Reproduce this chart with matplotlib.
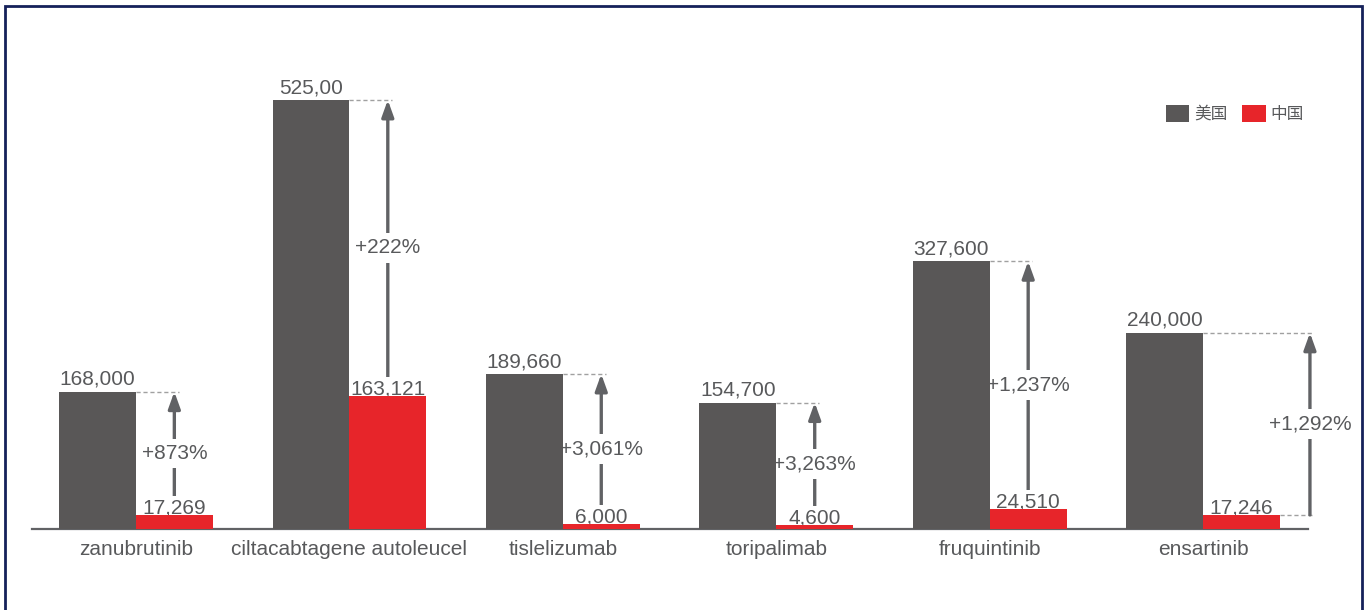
import matplotlib.pyplot as plt
import numpy as np
from matplotlib.patches import Rectangle

plt.rcParams['font.family'] = ['Liberation Sans', 'Noto Sans CJK SC', 'DejaVu Sans']

# Annual price per drug, USA vs China
drugs = ["zanubrutinib", "ciltacabtagene autoleucel", "tislelizumab",
         "toripalimab", "fruquintinib", "ensartinib"]
us_price = [168000, 525000, 189660, 154700, 327600, 240000]
cn_price = [17269, 163121, 6000, 4600, 24510, 17246]
us_text = ["168,000", "525,00", "189,660", "154,700", "327,600", "240,000"]
cn_text = ["17,269", "163,121", "6,000", "4,600", "24,510", "17,246"]
series_names = ["美国", "中国"]

US_COLOR = "#595757"
CN_COLOR = "#e7252a"
TEXT_COLOR = "#58595b"
ARROW_COLOR = "#616265"
DASH_COLOR = "#a0a0a0"

width = 0.36
# arrow sits over the China bar, except the last group where it goes to the axis end
arrow_dx = [0.18, 0.18, 0.18, 0.18, 0.18, 0.50]

fig = plt.figure(figsize=(13.66, 6.10), dpi=100)
ax = fig.add_axes([0.0234, 0.1328, 0.934, 0.8016])

x = np.arange(len(drugs))
ax.bar(x - width / 2, us_price, width, color=US_COLOR, label=series_names[0], zorder=3)
ax.bar(x + width / 2, cn_price, width, color=CN_COLOR, label=series_names[1], zorder=3)

for i in range(len(drugs)):
    us, cn = us_price[i], cn_price[i]
    ax_x = i + arrow_dx[i]
    # dashed guide from the top of the US bar to the arrow
    ax.plot([i, ax_x + 0.02], [us, us], color=DASH_COLOR, lw=1, ls=(0, (3, 2)),
            zorder=1, clip_on=False)
    if arrow_dx[i] > width:
        ax.plot([i + width, ax_x + 0.02], [cn, cn], color=DASH_COLOR, lw=1,
                ls=(0, (3, 2)), zorder=1, clip_on=False)
    ax.annotate("", xy=(ax_x, us), xytext=(ax_x, cn),
                arrowprops=dict(arrowstyle="-|>,head_length=0.5,head_width=0.18",
                                color=ARROW_COLOR, lw=2.4,
                                mutation_scale=20, shrinkA=0, shrinkB=0),
                zorder=1, annotation_clip=False)
    pct = (us - cn) / cn * 100
    ax.text(ax_x, (us + cn) / 2, f"+{pct:,.0f}%", ha="center", va="center",
            fontsize=15, color=TEXT_COLOR, zorder=2,
            bbox=dict(boxstyle="square,pad=0.25", fc="white", ec="none"))
    ax.annotate(us_text[i], (i - width / 2, us), xytext=(0, 5),
                textcoords="offset points", ha="center", va="baseline",
                fontsize=15, color=TEXT_COLOR, zorder=2,
                bbox=dict(boxstyle="square,pad=0.1", fc="white", ec="none"))
    ax.annotate(cn_text[i], (i + width / 2, cn), xytext=(0, 1.2),
                textcoords="offset points", ha="center", va="baseline",
                fontsize=15, color=TEXT_COLOR, zorder=2,
                bbox=dict(boxstyle="square,pad=0.1", fc="white", ec="none"))

ax.set_xlim(-0.487, 5.49)
ax.set_ylim(0, 598400)
ax.set_xticks(x)
ax.set_xticklabels(drugs, fontsize=15, color=TEXT_COLOR)
ax.tick_params(axis="x", length=0, pad=8)
ax.set_yticks([])
for side in ["top", "right", "left"]:
    ax.spines[side].set_visible(False)
ax.spines["bottom"].set_color(ARROW_COLOR)
ax.spines["bottom"].set_linewidth(1.6)

leg = ax.legend(loc="center right", bbox_to_anchor=(0.997, 0.849), ncol=2,
                frameon=False, fontsize=12, handlelength=1.4, handleheight=1.2,
                handletextpad=0.3, columnspacing=0.9, borderpad=0, borderaxespad=0)
for t in leg.get_texts():
    t.set_color(TEXT_COLOR)
    t.set_family(["Noto Sans CJK SC", "DejaVu Sans"])

# navy frame around the figure
fig.patches.append(Rectangle((0.0037, -0.02), 0.9934, 1.0102, transform=fig.transFigure,
                             fill=False, edgecolor="#15215a", linewidth=2.0))

fig.savefig("out.png", dpi=100)
